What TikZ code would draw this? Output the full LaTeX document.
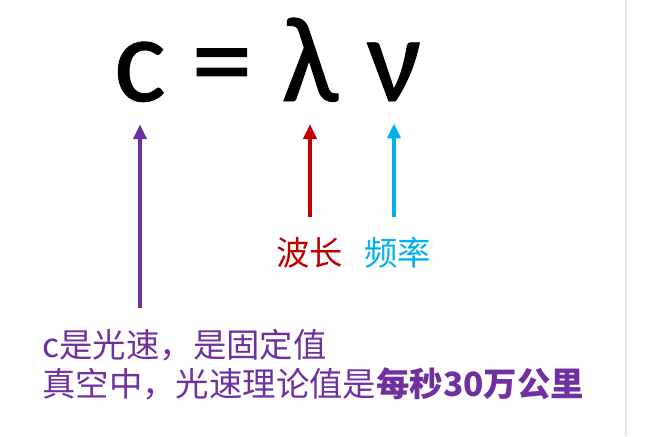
\documentclass[tikz,border=0pt]{standalone}
\usepackage{fontspec}
\setmainfont{Carlito}
\newfontfamily\symfont[FakeBold=0.8]{Carlito}
\newfontfamily\cjk{Noto Sans CJK SC}
\usetikzlibrary{arrows.meta}
\definecolor{lightpurple}{HTML}{7030A0}
\definecolor{darkred}{HTML}{C00000}
\definecolor{skyblue}{HTML}{00B0F0}

\tikzset{
  sym/.style={font=\symfont\fontsize{61}{61}\selectfont, inner sep=0pt, anchor=base},
  lbl/.style={font=\cjk\fontsize{16.7}{19.5}\selectfont, inner sep=0pt},
  pointer/.style={line width=2pt, -{Triangle[width=6.5pt,length=7.5pt]}},
}

\begin{document}
\begin{tikzpicture}[x=0.5pt,y=-0.5pt]
\useasboundingbox (0,0) rectangle (661,436);
\fill[white] (0,0) rectangle (661,436);

% page edge on the right
\draw[black!10, line width=0.6pt] (626,0) -- (626,436);

% the formula
\node[sym] (c) at (140,101) {c};
\node[sym] (eq) at (222,101) {=};
\node[sym] (lam) at (310,101) {λ};
\node[sym] (nu) at (394,101) {ν};

% labels
\node[lbl, text=darkred] (wl) at (310,253) {波长};
\node[lbl, text=skyblue] (fr) at (398,253) {频率};
\node[lbl, text=lightpurple, align=left, anchor=north west] (desc) at (42,329)
  {c是光速，是固定值\\真空中，光速理论值是\textbf{每秒30万公里}};

% arrows up to the symbols
\draw[pointer, darkred, shorten <=10pt, shorten >=11pt] (wl.north) -- (wl.north |- lam.south);
\draw[pointer, skyblue, shorten <=10pt, shorten >=11pt] (nu.south |- fr.north) -- (nu.south);
\draw[pointer, lightpurple, shorten <=10.5pt, shorten >=11pt] (c.south |- desc.north) -- (c.south);

\end{tikzpicture}
\end{document}
